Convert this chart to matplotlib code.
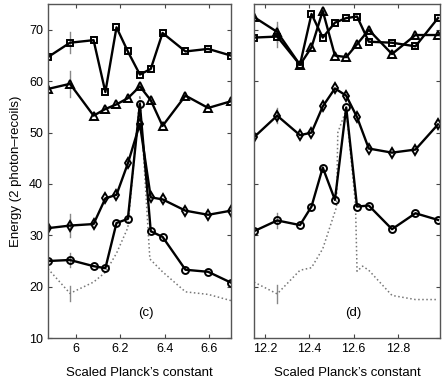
import numpy as np
import matplotlib.pyplot as plt

plt.rcParams['font.family'] = ['Liberation Sans', 'DejaVu Sans']

# panel (c)
x_c = [5.875, 5.974, 6.080, 6.133, 6.183, 6.234, 6.288, 6.337, 6.390, 6.493, 6.595, 6.697]
sq_c = [64.7, 67.5, 68.0, 57.9, 70.5, 65.8, 61.3, 62.4, 69.4, 65.8, 66.3, 65.0]
tri_c = [58.5, 59.5, 53.3, 54.6, 55.5, 56.7, 59.0, 56.3, 51.3, 57.2, 54.8, 56.1]
dia_c = [31.4, 31.9, 32.2, 37.2, 37.9, 44.0, 51.7, 37.4, 37.0, 34.8, 34.0, 34.8]
cir_c = [25.0, 25.2, 24.0, 23.6, 32.4, 33.2, 55.6, 30.8, 29.7, 23.3, 22.9, 20.8]
dot_x_c = [5.875, 5.974, 6.080, 6.133, 6.183, 6.234, 6.288, 6.333, 6.390, 6.493, 6.595, 6.697]
dot_c = [23.5, 18.7, 20.9, 22.8, 26.5, 31.5, 57.2, 25.4, 22.9, 19.0, 18.5, 17.3]

# panel (d)
x_d = [12.149, 12.254, 12.357, 12.409, 12.460, 12.515, 12.566, 12.615, 12.668, 12.773, 12.879, 12.981]
sq_d = [68.5, 68.7, 63.2, 73.1, 68.5, 71.4, 72.3, 72.6, 67.7, 67.5, 66.8, 72.3]
tri_d = [72.5, 69.6, 63.2, 66.6, 73.7, 65.0, 64.7, 67.2, 70.0, 65.3, 69.0, 69.0]
dia_d = [49.1, 53.3, 49.5, 50.0, 55.1, 58.6, 57.2, 53.0, 46.9, 46.1, 46.7, 51.6]
cir_d = [30.8, 32.9, 32.0, 35.6, 43.2, 36.9, 54.9, 35.6, 35.8, 31.2, 34.3, 33.0]
dot_x_d = [12.149, 12.254, 12.357, 12.409, 12.460, 12.522, 12.528, 12.566, 12.608, 12.615, 12.640, 12.668, 12.773, 12.879, 12.981]
dot_d = [20.9, 18.6, 23.2, 23.7, 27.4, 35.5, 50.0, 54.5, 36.0, 23.0, 24.0, 23.2, 18.3, 17.5, 17.5]

# error bars (one point per panel)
err_x = [5.974, 12.254]
err_c = [(67.5, 2.0), (59.5, 2.5), (31.9, 2.3), (25.2, 1.4), (18.7, 1.4)]
err_d = [(68.7, 2.0), (69.6, 2.0), (53.3, 1.5), (32.9, 1.5), (18.6, 1.7)]

fig = plt.figure(figsize=(4.44, 3.82), dpi=100)
ax1 = fig.add_axes([0.108, 0.115, 0.412, 0.874])
ax2 = fig.add_axes([0.572, 0.115, 0.419, 0.874])

line_kw = dict(color='black', lw=1.7, mfc='none', mec='black', mew=1.4)


def draw(ax, x, sq, tri, dia, cir, dx, dot, ex, errs):
    for yv, e in errs:
        ax.plot([ex, ex], [yv - e, yv + e], color='#888888', lw=1.0, zorder=1)
    ax.plot(dx, dot, ':', color='#777777', lw=1.1, zorder=2)
    ax.plot(x, sq, marker='s', ms=4, **line_kw)
    ax.plot(x, tri, marker='^', ms=5.5, **line_kw)
    ax.plot(x, dia, marker='d', ms=5, **line_kw)
    ax.plot(x, cir, marker='o', ms=5, **line_kw)
    ax.set_ylim(10, 75)
    ax.set_yticks([10, 20, 30, 40, 50, 60, 70])
    ax.tick_params(direction='in', top=True, right=True, length=3,
                   labelsize=9, color='#444444')
    for s in ax.spines.values():
        s.set_color('#555555')
        s.set_linewidth(1.0)
    ax.set_xlabel("Scaled Planck\u2019s constant", fontsize=9.5, labelpad=9)


draw(ax1, x_c, sq_c, tri_c, dia_c, cir_c, dot_x_c, dot_c, err_x[0], err_c)
draw(ax2, x_d, sq_d, tri_d, dia_d, cir_d, dot_x_d, dot_d, err_x[1], err_d)

ax1.set_xlim(5.875, 6.697)
ax1.set_xticks([6, 6.2, 6.4, 6.6])
ax1.set_xticklabels(['6', '6.2', '6.4', '6.6'])
ax1.set_ylabel('Energy (2 photon\u2013recoils)', fontsize=9.5, labelpad=5)
ax1.text(6.315, 14.8, '(c)', ha='center', va='center', fontsize=9.5)

ax2.set_xlim(12.149, 12.99)
ax2.set_xticks([12.2, 12.4, 12.6, 12.8])
ax2.set_xticklabels(['12.2', '12.4', '12.6', '12.8'])
ax2.set_yticklabels([])
ax2.text(12.6, 14.8, '(d)', ha='center', va='center', fontsize=9.5)

fig.savefig('out.png', dpi=100)
